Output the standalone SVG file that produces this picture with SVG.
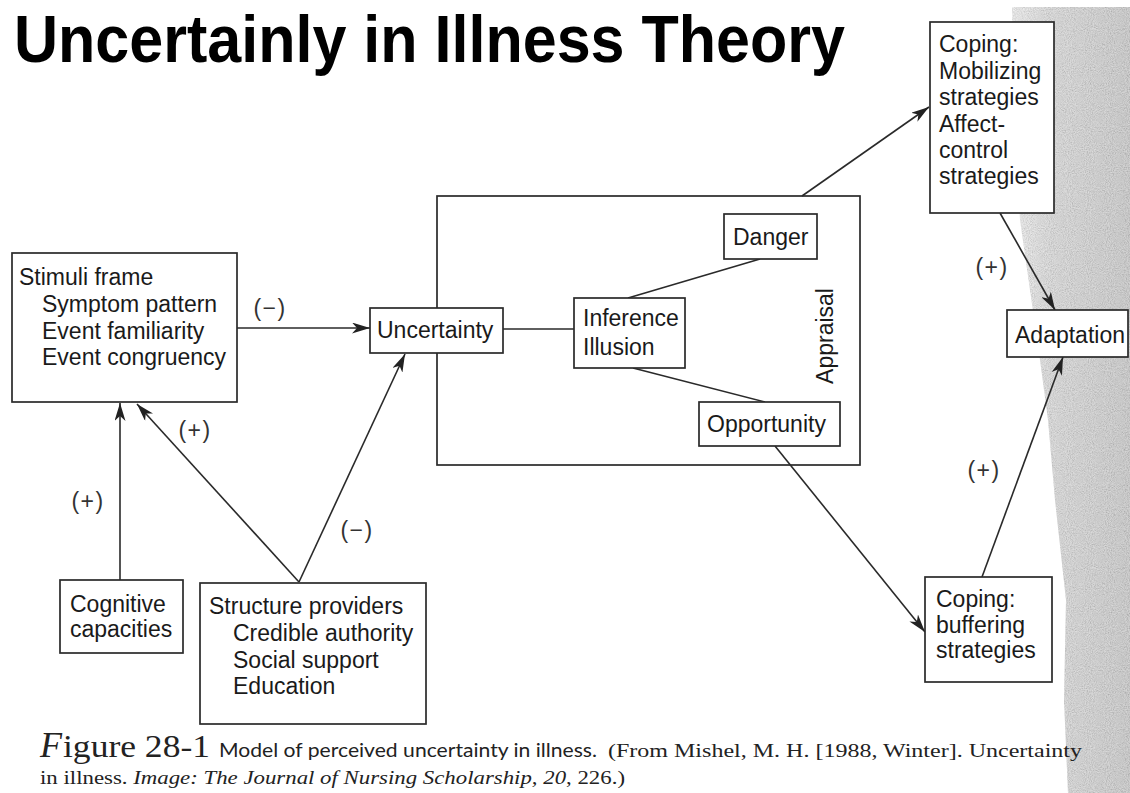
<svg xmlns="http://www.w3.org/2000/svg" width="1130" height="793" viewBox="0 0 1130 793">
<style>
.t{font-family:"Liberation Sans",Arial,sans-serif;font-size:23px;fill:#1a1a1a}
.lbl{font-family:"Liberation Sans",Arial,sans-serif;font-size:23px;fill:#333;text-anchor:middle;letter-spacing:1.5px}
.box{fill:#fff;stroke:#2a2a2a;stroke-width:1.7}
.frame{fill:none;stroke:#2a2a2a;stroke-width:1.7}
.ln{fill:none;stroke:#2a2a2a;stroke-width:1.6}
.arr{marker-end:url(#ah)}
.serif{font-family:"Liberation Serif","Times New Roman",serif;fill:#222}
.cap{font-family:Lato,"Open Sans","Liberation Sans",sans-serif;fill:#222}
</style>
<defs>
<marker id="ah" viewBox="0 0 18 11" refX="18" refY="5.5" markerWidth="18" markerHeight="11" markerUnits="userSpaceOnUse" orient="auto">
<path d="M0,0 L18,5.5 L0,11 L5,5.5 Z" fill="#222"/>
</marker>
<linearGradient id="shade" gradientUnits="userSpaceOnUse" x1="1008" y1="0" x2="1130" y2="0">
<stop offset="0" stop-color="#f8f8f8"/>
<stop offset="0.35" stop-color="#dedede"/>
<stop offset="1" stop-color="#cbcbcb"/>
</linearGradient>
<clipPath id="shadeClip">
<path d="M1012,7 L1130,7 L1130,793 L1068,793 L1064,700 L1066,600 L1055,500 L1048,420 L1040,360 L1030,290 L1020,220 L1014,120 Z"/>
</clipPath>
<filter id="grain" x="0" y="0" width="100%" height="100%">
<feTurbulence type="fractalNoise" baseFrequency="0.95" numOctaves="2" seed="4"/>
<feColorMatrix type="matrix" values="1 0 0 0 0  1 0 0 0 0  1 0 0 0 0  0 0 0 0 1"/>
</filter>
</defs>

<rect x="0" y="0" width="1130" height="793" fill="#fff"/>
<g id="paper-shade">
<path d="M1012,7 L1130,7 L1130,793 L1068,793 L1064,700 L1066,600 L1055,500 L1048,420 L1040,360 L1030,290 L1020,220 L1014,120 Z" fill="url(#shade)"/>
<rect x="1000" y="0" width="130" height="793" filter="url(#grain)" clip-path="url(#shadeClip)" opacity="0.32"/>
</g>

<text id="title" x="14" y="62" font-family="'Liberation Sans',Arial,sans-serif" font-weight="bold" font-size="67" fill="#000" textLength="831" lengthAdjust="spacingAndGlyphs">Uncertainly in Illness Theory</text>

<g id="appraisal">
<rect class="frame" x="437" y="196" width="423" height="269"/>
<text class="t" transform="translate(833,336) rotate(-90)" text-anchor="middle">Appraisal</text>
</g>

<g id="connectors">
<line class="ln arr" x1="237" y1="328" x2="370" y2="328"/>
<line class="ln arr" x1="120" y1="580" x2="120" y2="403"/>
<line class="ln arr" x1="299" y1="582" x2="137" y2="404"/>
<line class="ln arr" x1="299" y1="582" x2="405" y2="354"/>
<line class="ln" x1="503" y1="329" x2="574" y2="329"/>
<line class="ln" x1="628" y1="298" x2="760" y2="259"/>
<line class="ln" x1="633" y1="368" x2="765" y2="402"/>
<line class="ln arr" x1="802" y1="196" x2="929" y2="107"/>
<line class="ln arr" x1="775" y1="446" x2="925" y2="632"/>
<line class="ln arr" x1="1000" y1="213" x2="1055" y2="310"/>
<line class="ln arr" x1="982" y1="577" x2="1063" y2="357"/>
<text class="lbl" x="270" y="316">(−)</text>
<text class="lbl" x="88" y="509">(+)</text>
<text class="lbl" x="195" y="438">(+)</text>
<text class="lbl" x="357" y="538">(−)</text>
<text class="lbl" x="992" y="275">(+)</text>
<text class="lbl" x="984" y="478">(+)</text>
</g>

<g id="stimuli">
<rect class="box" x="12" y="253" width="225" height="149"/>
<text class="t" x="19" y="285">Stimuli frame</text>
<text class="t" x="42" y="312">Symptom pattern</text>
<text class="t" x="42" y="339">Event familiarity</text>
<text class="t" x="42" y="365">Event congruency</text>
</g>

<g id="uncertainty">
<rect class="box" x="370" y="308" width="133" height="45"/>
<text class="t" x="377" y="338">Uncertainty</text>
</g>

<g id="inference">
<rect class="box" x="574" y="298" width="111" height="70"/>
<text class="t" x="583" y="326">Inference</text>
<text class="t" x="583" y="355">Illusion</text>
</g>

<g id="danger">
<rect class="box" x="724" y="214" width="93" height="45"/>
<text class="t" x="733" y="245">Danger</text>
</g>

<g id="opportunity">
<rect class="box" x="699" y="402" width="141" height="44"/>
<text class="t" x="707" y="432">Opportunity</text>
</g>

<g id="coping-mobilizing">
<rect class="box" x="930" y="22" width="124" height="191"/>
<text class="t" x="939" y="52">Coping:</text>
<text class="t" x="939" y="79">Mobilizing</text>
<text class="t" x="939" y="105">strategies</text>
<text class="t" x="939" y="132">Affect-</text>
<text class="t" x="939" y="158">control</text>
<text class="t" x="939" y="184">strategies</text>
</g>

<g id="adaptation">
<rect class="box" x="1007" y="310" width="121" height="47"/>
<text class="t" x="1015" y="343">Adaptation</text>
</g>

<g id="coping-buffering">
<rect class="box" x="925" y="577" width="127" height="105"/>
<text class="t" x="936" y="607">Coping:</text>
<text class="t" x="936" y="633">buffering</text>
<text class="t" x="936" y="658">strategies</text>
</g>

<g id="cognitive">
<rect class="box" x="60" y="580" width="123" height="73"/>
<text class="t" x="70" y="612">Cognitive</text>
<text class="t" x="70" y="637">capacities</text>
</g>

<g id="structure">
<rect class="box" x="200" y="583" width="226" height="141"/>
<text class="t" x="209" y="614">Structure providers</text>
<text class="t" x="233" y="641">Credible authority</text>
<text class="t" x="233" y="668">Social support</text>
<text class="t" x="233" y="694">Education</text>
</g>

<g id="caption">
<text class="serif" x="40" y="757" font-size="36" font-style="italic">F</text>
<text class="serif" x="63" y="757" font-size="31" textLength="147" lengthAdjust="spacingAndGlyphs">igure 28-1</text>
<text class="cap" x="219" y="757" font-size="19.5" textLength="378" lengthAdjust="spacingAndGlyphs">Model of perceived uncertainty in illness.</text>
<text class="serif" x="608" y="757" font-size="19.5" textLength="474" lengthAdjust="spacingAndGlyphs">(From Mishel, M. H. [1988, Winter]. Uncertainty</text>
<text class="serif" x="40" y="784" font-size="19.5" textLength="585" lengthAdjust="spacingAndGlyphs">in illness. <tspan font-style="italic">Image: The Journal of Nursing Scholarship, 20</tspan>, 226.)</text>
</g>
</svg>
